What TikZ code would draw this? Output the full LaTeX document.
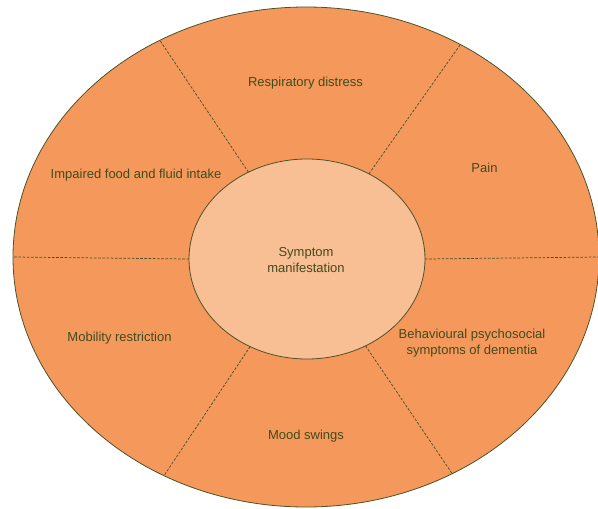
\documentclass[tikz,border=0pt]{standalone}
\usepackage{fontspec}
\setmainfont{Liberation Sans}
\usetikzlibrary{shapes.geometric}
\definecolor{ringfill}{HTML}{F4995B}
\definecolor{corefill}{HTML}{F8BE94}
\definecolor{edgecol}{HTML}{4E5229}
\definecolor{textcol}{HTML}{434A1E}
\tikzset{
  ringshape/.style={ellipse, draw=edgecol, line width=0.8pt, fill=ringfill, inner sep=0pt, outer sep=0pt},
  coreshape/.style={ellipse, draw=edgecol, line width=0.8pt, fill=corefill, inner sep=0pt, outer sep=0pt},
  divider/.style={draw=edgecol, line width=0.75pt, dash pattern=on 2.6pt off 1.6pt},
  lbl/.style={text=textcol, font=\fontsize{13}{16}\selectfont, align=center, inner sep=0pt}
}
\begin{document}
\begin{tikzpicture}[x=1pt,y=-1pt]
\useasboundingbox[fill=white] (0,0) rectangle (598,509);
\node[ringshape, minimum width=586pt, minimum height=500pt] (outer) at (306,257) {};
\node[coreshape, minimum width=236pt, minimum height=200pt] (inner) at (307,259) {};
\draw[divider] (inner.124) -- (outer.124);
\draw[divider] (inner.54) -- (outer.54);
\draw[divider] (inner.-56) -- (outer.-56);
\draw[divider] (inner.237) -- (outer.237);
\draw[divider] (inner.180) -- (outer.180);
\draw[divider] (inner.0) -- (outer.0);
\node[lbl] (resp) at (305.5,83) {Respiratory distress};
\node[lbl] (food) at (136,175) {Impaired food and fluid intake};
\node[lbl] (pain) at (484.5,168) {Pain};
\node[lbl] (core) at (306,260) {Symptom\\manifestation};
\node[lbl] (mob) at (119.5,338) {Mobility restriction};
\node[lbl] (beh) at (472,343) {Behavioural psychosocial\\symptoms of dementia};
\node[lbl] (mood) at (306,436) {Mood swings};
\end{tikzpicture}
\end{document}
